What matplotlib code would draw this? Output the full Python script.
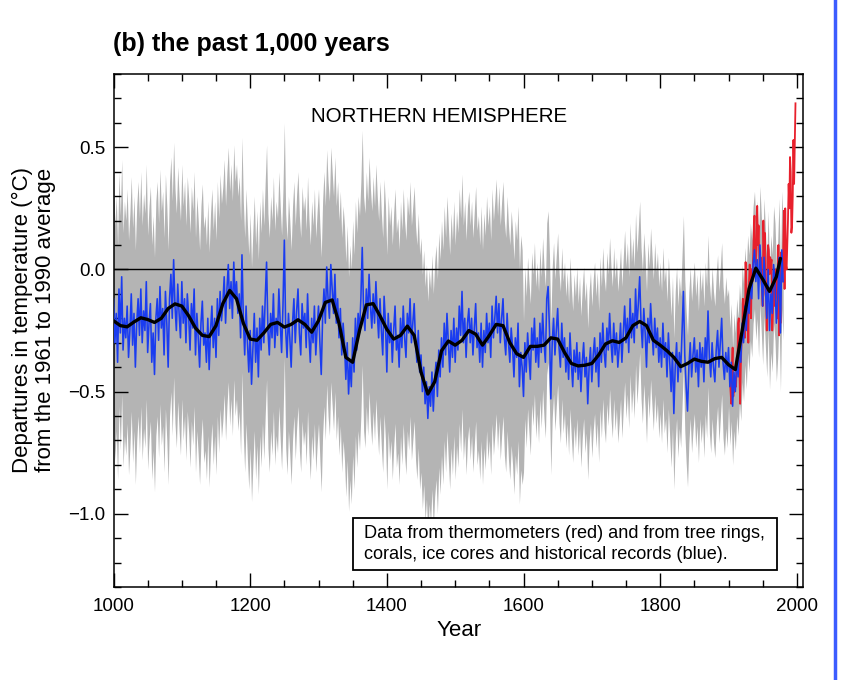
import numpy as np
import matplotlib
matplotlib.use("Agg")
import matplotlib.pyplot as plt
from matplotlib.lines import Line2D
from matplotlib.ticker import MultipleLocator

plt.rcParams['font.family'] = ['Liberation Sans', 'DejaVu Sans']

# ---------------- data ----------------
# proxy reconstruction (blue), 2-year samples 1000..1980
proxy_start, proxy_step = 1000, 2
proxy_values = [
    -0.12, -0.30, -0.18, -0.38, -0.08, -0.26, -0.03, -0.33, -0.20, -0.28,   # 1000
    -0.15, -0.36, -0.25, -0.10, -0.31, -0.18, -0.40, -0.22, -0.12, -0.27,   # 1020
    -0.08, -0.30, -0.17, -0.25, -0.05, -0.34, -0.22, -0.14, -0.38, -0.26,   # 1040
    -0.43, -0.20, -0.12, -0.29, -0.07, -0.24, -0.16, -0.35, -0.09, -0.22,   # 1060
    -0.40, -0.12, -0.02, -0.20, 0.04, -0.15, -0.25, -0.06, -0.18, -0.28,    # 1080
    -0.05, -0.22, -0.12, -0.30, -0.10, -0.19, -0.33, -0.14, -0.24, -0.08,   # 1100
    -0.35, -0.18, -0.28, -0.40, -0.22, -0.13, -0.31, -0.26, -0.38, -0.20,   # 1120
    -0.41, -0.25, -0.15, -0.32, -0.20, -0.36, -0.12, -0.27, -0.09, -0.21,   # 1140
    -0.14, -0.03, -0.22, -0.08, 0.02, -0.16, -0.05, -0.20, 0.03, -0.12,     # 1160
    -0.05, -0.18, -0.10, -0.28, 0.06, -0.20, -0.35, -0.15, -0.30, -0.42,    # 1180
    -0.25, -0.47, -0.32, -0.18, -0.38, -0.24, -0.44, -0.20, -0.33, -0.15,   # 1200
    -0.30, -0.12, 0.03, -0.25, -0.35, -0.18, -0.28, -0.10, -0.32, -0.20,    # 1220
    -0.27, -0.08, -0.22, -0.34, -0.15, 0.12, -0.25, -0.36, -0.18, -0.28,    # 1240
    -0.40, -0.22, -0.12, -0.30, -0.17, -0.08, -0.26, -0.35, -0.14, -0.24,   # 1260
    -0.18, -0.32, -0.10, -0.27, -0.38, -0.20, -0.30, -0.15, -0.35, -0.24,   # 1280
    -0.15, -0.30, -0.43, -0.20, -0.08, -0.22, 0.01, -0.12, -0.20, 0.02,     # 1300
    -0.08, -0.18, -0.02, -0.22, -0.12, -0.28, -0.16, -0.35, -0.22, -0.30,   # 1320
    -0.45, -0.30, -0.51, -0.38, -0.48, -0.28, -0.42, -0.20, -0.33, -0.18,   # 1340
    -0.26, -0.12, 0.09, -0.18, -0.25, -0.08, -0.20, -0.02, -0.15, -0.24,    # 1360
    -0.10, -0.22, -0.05, -0.18, -0.28, -0.12, -0.25, -0.35, -0.11, -0.22,   # 1380
    -0.42, -0.18, -0.30, -0.22, -0.38, -0.25, -0.15, -0.33, -0.27, -0.40,   # 1400
    -0.20, -0.32, -0.15, -0.28, -0.36, -0.18, -0.26, -0.12, -0.30, -0.22,   # 1420
    -0.14, -0.30, -0.38, -0.25, -0.42, -0.35, -0.50, -0.40, -0.55, -0.46,   # 1440
    -0.61, -0.48, -0.56, -0.42, -0.58, -0.45, -0.38, -0.52, -0.33, -0.44,   # 1460
    -0.28, -0.40, -0.22, -0.35, -0.18, -0.30, -0.42, -0.25, -0.36, -0.20,   # 1480
    -0.38, -0.24, -0.33, -0.15, -0.27, -0.09, -0.30, -0.20, -0.36, -0.22,   # 1500
    -0.16, -0.30, -0.20, -0.35, -0.24, -0.14, -0.32, -0.26, -0.38, -0.22,   # 1520
    -0.40, -0.25, -0.34, -0.18, -0.30, -0.22, -0.36, -0.15, -0.28, -0.20,   # 1540
    -0.11, -0.26, -0.14, -0.30, -0.20, -0.12, -0.28, -0.35, -0.18, -0.30,   # 1560
    -0.38, -0.24, -0.32, -0.44, -0.28, -0.36, -0.22, -0.48, -0.34, -0.40,   # 1580
    -0.52, -0.30, -0.42, -0.26, -0.36, -0.45, -0.24, -0.33, -0.20, -0.38,   # 1600
    -0.28, -0.40, -0.22, -0.34, -0.18, -0.30, -0.38, -0.12, -0.07, -0.25,   # 1620
    -0.53, -0.30, -0.20, -0.35, -0.25, -0.16, -0.32, -0.40, -0.22, -0.36,   # 1640
    -0.28, -0.42, -0.32, -0.45, -0.26, -0.38, -0.48, -0.33, -0.42, -0.30,   # 1660
    -0.45, -0.34, -0.50, -0.38, -0.30, -0.44, -0.36, -0.55, -0.40, -0.32,   # 1680
    -0.46, -0.35, -0.28, -0.42, -0.32, -0.48, -0.26, -0.38, -0.22, -0.34,   # 1700
    -0.40, -0.24, -0.33, -0.18, -0.30, -0.38, -0.22, -0.35, -0.26, -0.40,   # 1720
    -0.32, -0.22, -0.38, -0.26, -0.15, -0.30, -0.20, -0.34, -0.12, -0.28,   # 1740
    -0.18, -0.30, -0.08, -0.24, -0.14, -0.03, -0.22, -0.32, -0.16, -0.26,   # 1760
    -0.40, -0.20, -0.30, -0.14, -0.25, -0.35, -0.20, -0.32, -0.24, -0.38,   # 1780
    -0.28, -0.40, -0.22, -0.36, -0.30, -0.44, -0.26, -0.38, -0.50, -0.34,   # 1800
    -0.59, -0.40, -0.30, -0.46, -0.34, -0.42, -0.25, -0.09, -0.35, -0.48,   # 1820
    -0.58, -0.40, -0.30, -0.44, -0.35, -0.28, -0.42, -0.33, -0.48, -0.30,   # 1840
    -0.40, -0.32, -0.46, -0.28, -0.38, -0.17, -0.36, -0.44, -0.30, -0.40,   # 1860
    -0.46, -0.33, -0.25, -0.40, -0.30, -0.20, -0.38, -0.45, -0.34, -0.42,   # 1880
    -0.32, -0.48, -0.38, -0.56, -0.42, -0.50, -0.36, -0.44, -0.30, -0.38,   # 1900
    -0.22, -0.30, -0.15, -0.25, -0.10, -0.18, -0.05, -0.12, 0.02, 0.08,     # 1920
    -0.05, 0.04, -0.12, 0.10, -0.02, -0.15, 0.05, -0.08, -0.20, 0.00,       # 1940
    -0.25, -0.10, -0.18, 0.02, -0.05, -0.22, -0.12, 0.05, -0.26, 0.08,      # 1960
    -0.05,                                                                  # 1980
]

# uncertainty half-width of the grey band, by period
band_period_start = [1000, 1600, 1900]
band_halfwidth = [0.48, 0.31, 0.24]

# 50-year smoothed reconstruction (black)
smooth_years = [1000, 1010, 1020, 1030, 1040, 1050, 1060, 1070, 1080, 1090,
                1100, 1110, 1120, 1130, 1140, 1150, 1160, 1170, 1180, 1190,
                1200, 1210, 1220, 1230, 1240, 1250, 1260, 1270, 1280, 1290,
                1300, 1310, 1320, 1330, 1340, 1350, 1360, 1370, 1380, 1390,
                1400, 1410, 1420, 1430, 1440, 1450, 1460, 1470, 1480, 1490,
                1500, 1510, 1520, 1530, 1540, 1550, 1560, 1570, 1580, 1590,
                1600, 1610, 1620, 1630, 1640, 1650, 1660, 1670, 1680, 1690,
                1700, 1710, 1720, 1730, 1740, 1750, 1760, 1770, 1780, 1790,
                1800, 1810, 1820, 1830, 1840, 1850, 1860, 1870, 1880, 1890,
                1900, 1910, 1920, 1930, 1940, 1950, 1960, 1970, 1976]
smooth_values = [-0.21, -0.23, -0.235, -0.215, -0.198, -0.205, -0.217, -0.20, -0.16, -0.141,
                 -0.15, -0.19, -0.24, -0.27, -0.275, -0.23, -0.14, -0.086, -0.12, -0.22,
                 -0.285, -0.29, -0.26, -0.225, -0.217, -0.236, -0.225, -0.206, -0.225, -0.257,
                 -0.21, -0.135, -0.125, -0.22, -0.36, -0.38, -0.25, -0.145, -0.14, -0.19,
                 -0.245, -0.285, -0.27, -0.232, -0.27, -0.42, -0.51, -0.46, -0.333, -0.293,
                 -0.31, -0.29, -0.25, -0.265, -0.31, -0.27, -0.225, -0.23, -0.30, -0.345,
                 -0.36, -0.315, -0.315, -0.31, -0.28, -0.285, -0.34, -0.385, -0.395, -0.392,
                 -0.385, -0.35, -0.305, -0.292, -0.299, -0.28, -0.23, -0.213, -0.23, -0.29,
                 -0.31, -0.333, -0.36, -0.398, -0.385, -0.367, -0.376, -0.38, -0.365, -0.36,
                 -0.39, -0.41, -0.25, -0.08, 0.005, -0.04, -0.09, -0.03, 0.045]

# instrumental record (red), annual 1902..1998
instr_start = 1902
instr_values = [
    -0.45, -0.50, -0.55, -0.40, -0.32, -0.52, -0.48, -0.50,                 # 1902-1909
    -0.45, -0.48, -0.40, -0.38, -0.22, -0.20, -0.42, -0.55, -0.40, -0.30,   # 1910-1919
    -0.28, -0.12, -0.25, -0.20, -0.28, 0.03, -0.05, -0.15, -0.10, -0.30,    # 1920-1929
    -0.05, 0.02, -0.08, -0.20, 0.00, -0.05, 0.05, 0.15, 0.22, 0.05,         # 1930-1939
    0.02, 0.08, 0.26, 0.10, 0.18, 0.05, -0.02, 0.05, -0.05, -0.08,          # 1940-1949
    -0.15, 0.20, 0.05, 0.15, -0.10, -0.12, -0.25, 0.05, 0.10, 0.08,         # 1950-1959
    -0.02, 0.05, 0.02, 0.04, -0.25, -0.18, -0.08, -0.05, -0.15, 0.00,       # 1960-1969
    -0.05, -0.12, -0.20, 0.10, -0.27, -0.05, -0.22, 0.07, -0.05, 0.00,      # 1970-1979
    0.08, 0.24, -0.08, 0.25, 0.02, 0.00, 0.10, 0.20, 0.35, 0.25,            # 1980-1989
    0.46, 0.40, 0.15, 0.18, 0.30, 0.53, 0.35, 0.52, 0.68,                   # 1990-1998
]

x_ticks = [1000, 1200, 1400, 1600, 1800, 2000]
y_ticks = [-1.0, -0.5, 0.0, 0.5]
y_tick_labels = ['\u22121.0', '\u22120.5', '0.0', '0.5']

# ---------------- figure ----------------
fig = plt.figure(figsize=(8.42, 6.80), dpi=100)
ax = fig.add_axes([113.5 / 842, 1 - 587 / 680, (803 - 113.5) / 842, (587 - 74) / 680])

proxy = np.array(proxy_values)
proxy_years = proxy_start + proxy_step * np.arange(len(proxy))
idx = np.searchsorted(band_period_start, proxy_years, side='right') - 1
hw = np.array(band_halfwidth)[idx]

ax.fill_between(proxy_years, proxy - hw, proxy + hw, color='#b4b4b4', lw=0, zorder=1)
ax.axhline(0.0, color='black', lw=1.0, zorder=2)

instr = np.array(instr_values)
instr_years = instr_start + np.arange(len(instr))
ax.plot(instr_years, instr, color='#e8202c', lw=1.3, zorder=3)
ax.plot(proxy_years, proxy, color='#1a3cf0', lw=1.15, zorder=4)
ax.plot(smooth_years, smooth_values, color='black', lw=2.4, zorder=5,
        solid_joinstyle='round', solid_capstyle='round')

ax.set_xlim(1000, 2009)
ax.set_ylim(-1.3, 0.8)
ax.set_xticks(x_ticks)
ax.xaxis.set_minor_locator(MultipleLocator(50))
ax.set_yticks(y_ticks)
ax.set_yticklabels(y_tick_labels)
ax.yaxis.set_minor_locator(MultipleLocator(0.1))
ax.tick_params(which='both', direction='in', top=True, right=True, width=1.0, labelsize=13.5)
ax.tick_params(which='major', length=10)
ax.tick_params(which='minor', length=5)
ax.tick_params(axis='x', pad=8)
ax.tick_params(axis='y', pad=6)
for s in ax.spines.values():
    s.set_linewidth(1.1)

fig.text(459 / 842, 1 - 630 / 680, 'Year', ha='center', va='center', fontsize=16)
fig.text(34 / 842, 1 - 320 / 680,
         'Departures in temperature (\u00b0C)\nfrom the 1961 to 1990 average',
         rotation=90, ha='center', va='center', fontsize=16, linespacing=1.12)

ax.text(1477, 0.625, 'NORTHERN HEMISPHERE', ha='center', va='center', fontsize=14.8, zorder=6)

box = plt.Rectangle((352.5 / 842, 1 - 570 / 680), (777 - 352.5) / 842, (570 - 518) / 680,
                    transform=fig.transFigure, fill=True, facecolor='white',
                    edgecolor='black', lw=1.3, zorder=6)
fig.add_artist(box)
fig.text(364 / 842, 1 - 544 / 680, 'Data from thermometers (red) and from tree rings,\n'
         'corals, ice cores and historical records (blue).',
         ha='left', va='center', fontsize=13.1, linespacing=1.33, zorder=8)

fig.text(113 / 842, 1 - 44 / 680, '(b) the past 1,000 years', ha='left', va='center',
         fontsize=18, fontweight='bold')

fig.add_artist(Line2D([834.5 / 842, 834.5 / 842], [0, 1], color='#3c5cff', lw=2.5,
                      transform=fig.transFigure))

fig.savefig('out.png', dpi=100)
